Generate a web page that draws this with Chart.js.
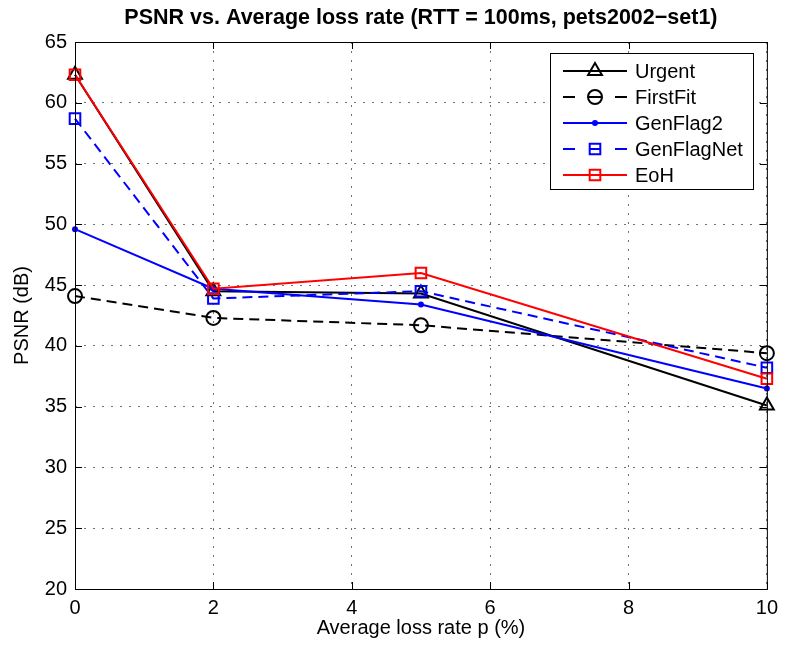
<!DOCTYPE html>
<html>
<head>
<meta charset="utf-8">
<script src="https://cdn.jsdelivr.net/npm/chart.js@4/dist/chart.umd.min.js"></script>
<style>
  body { margin: 0; background: #fff; }
</style>
</head>
<body>
<canvas id="chart" width="785" height="652"></canvas>
<script>
// loss rate (%) on x
const lossRates = [0, 2, 5, 10];
// PSNR (dB) per scheme
const urgent = [62.3, 44.5, 44.3, 35.1];
const firstFit = [44.1, 42.3, 41.7, 39.4];
const genFlag2 = [49.6, 44.7, 43.4, 36.5];
const genFlagNet = [58.7, 43.9, 44.5, 38.2];
const eoh = [62.3, 44.7, 46.0, 37.3];

const xTicks = [0, 2, 4, 6, 8, 10];
const yTicks = [20, 25, 30, 35, 40, 45, 50, 55, 60, 65];

const TITLE = "PSNR vs. Average loss rate (RTT = 100ms, pets2002\u2212set1)";
const FONT = "'Liberation Sans', Arial, Helvetica, sans-serif";

const toPoints = (vals) => vals.map((v, i) => ({ x: lossRates[i], y: v }));

const series = (label, vals, color, dash, pointStyle, radius, order) => ({
  label: label,
  data: toPoints(vals),
  borderColor: color,
  backgroundColor: color,
  borderWidth: 2,
  borderDash: dash,
  pointStyle: pointStyle,
  pointRadius: radius,
  pointBorderColor: color,
  pointBackgroundColor: pointStyle === "circle" && radius < 4 ? color : "rgba(0,0,0,0)",
  pointBorderWidth: 2,
  tension: 0,
  clip: false,
  order: order,
});

// title over the axes box, frame, inward ticks and legend like the matlab figure
const framePlugin = {
  id: "frame",
  afterDraw(chart) {
    const { ctx, chartArea: a, scales } = chart;
    ctx.save();

    ctx.fillStyle = "#000";
    ctx.font = "bold 21.5px " + FONT;
    ctx.textAlign = "center";
    ctx.textBaseline = "middle";
    ctx.fillText(TITLE, (a.left + a.right) / 2, 18);

    ctx.strokeStyle = "#000";
    ctx.lineWidth = 1;
    ctx.setLineDash([]);
    ctx.strokeRect(a.left + 0.5, a.top + 0.5, a.right - a.left, a.bottom - a.top);

    const len = 7;
    ctx.beginPath();
    xTicks.forEach((t) => {
      const px = Math.round(scales.x.getPixelForValue(t)) + 0.5;
      ctx.moveTo(px, a.bottom);
      ctx.lineTo(px, a.bottom - len);
      ctx.moveTo(px, a.top);
      ctx.lineTo(px, a.top + len);
    });
    yTicks.forEach((t) => {
      const py = Math.round(scales.y.getPixelForValue(t)) + 0.5;
      ctx.moveTo(a.left, py);
      ctx.lineTo(a.left + len, py);
      ctx.moveTo(a.right, py);
      ctx.lineTo(a.right - len, py);
    });
    ctx.stroke();

    // legend
    const box = { x: 550.5, y: 53.5, w: 203, h: 136 };
    ctx.fillStyle = "#fff";
    ctx.fillRect(box.x, box.y, box.w, box.h);
    ctx.strokeRect(box.x, box.y, box.w, box.h);
    ctx.font = "20px " + FONT;
    ctx.textBaseline = "middle";
    ctx.textAlign = "left";
    chart.data.datasets.forEach((ds, i) => {
      const y = 71 + i * 26;
      ctx.strokeStyle = ds.borderColor;
      ctx.lineWidth = 2;
      ctx.beginPath();
      if (ds.borderDash.length) {
        ctx.moveTo(563, y); ctx.lineTo(575, y);
        ctx.moveTo(589, y); ctx.lineTo(601, y);
        ctx.moveTo(615, y); ctx.lineTo(627, y);
      } else {
        ctx.moveTo(563, y); ctx.lineTo(627, y);
      }
      ctx.stroke();
      ctx.fillStyle = ds.pointBackgroundColor;
      Chart.helpers.drawPoint(ctx, {
        pointStyle: ds.pointStyle,
        radius: ds.pointRadius,
        borderWidth: 2,
        rotation: 0,
      }, 595, y);
      ctx.fillStyle = "#000";
      ctx.fillText(ds.label, 635, y + 1);
    });
    ctx.restore();
  },
};

new Chart(document.getElementById("chart"), {
  type: "line",
  data: {
    datasets: [
      series("Urgent", urgent, "#000000", [], "triangle", 8, 5),
      series("FirstFit", firstFit, "#000000", [10, 6], "circle", 7, 4),
      series("GenFlag2", genFlag2, "#0000ff", [], "circle", 2, 3),
      series("GenFlagNet", genFlagNet, "#0000ff", [10, 6], "rect", 7.5, 2),
      series("EoH", eoh, "#ff0000", [], "rect", 7.5, 1),
    ],
  },
  options: {
    responsive: false,
    animation: false,
    layout: { padding: { left: 0, right: 16, top: 42, bottom: 0 } },
    plugins: {
      legend: { display: false },
      tooltip: { enabled: false },
      title: { display: false },
    },
    scales: {
      x: {
        type: "linear",
        min: 0,
        max: 10,
        afterBuildTicks: (s) => { s.ticks = xTicks.map((v) => ({ value: v })); },
        afterFit: (s) => { s.height = 63; },
        ticks: { color: "#000", font: { family: FONT, size: 20 }, padding: 7, maxRotation: 0 },
        grid: { color: "rgba(0,0,0,0.55)", lineWidth: 1, drawTicks: false },
        border: { display: false, dash: [2, 7] },
        title: {
          display: true,
          text: "Average loss rate p (%)",
          color: "#000",
          font: { family: FONT, size: 20 },
          padding: { top: 0, bottom: 12 },
        },
      },
      y: {
        type: "linear",
        min: 20,
        max: 65,
        afterBuildTicks: (s) => { s.ticks = yTicks.map((v) => ({ value: v })); },
        afterFit: (s) => { s.width = 75; },
        ticks: { color: "#000", font: { family: FONT, size: 20 }, padding: 8 },
        grid: { color: "rgba(0,0,0,0.55)", lineWidth: 1, drawTicks: false },
        border: { display: false, dash: [2, 7] },
        title: {
          display: true,
          text: "PSNR (dB)",
          color: "#000",
          font: { family: FONT, size: 20 },
          padding: { top: 10, bottom: 0 },
        },
      },
    },
  },
  plugins: [framePlugin],
});
</script>
</body>
</html>
